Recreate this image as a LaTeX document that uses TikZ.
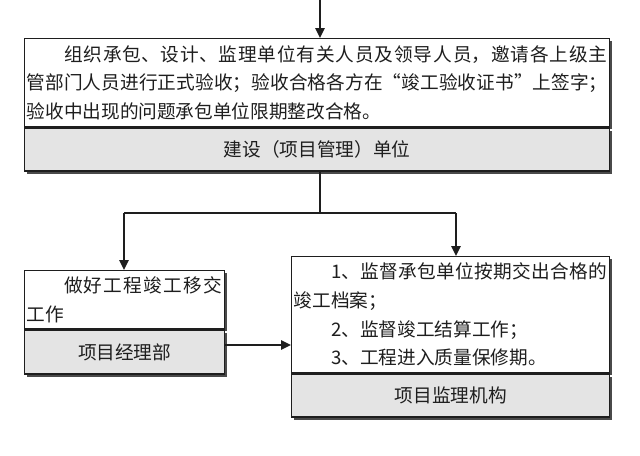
\documentclass[tikz,border=0pt]{standalone}
\usepackage{fontspec}
\newfontfamily\cjk{Noto Sans CJK SC}
\usetikzlibrary{arrows.meta, shadows, positioning}
\XeTeXlinebreaklocale "zh"
\XeTeXlinebreakskip=0pt plus 1pt minus 0.3pt
\definecolor{footGrey}{HTML}{E4E4E4}
\definecolor{shadeGrey}{HTML}{4A4A4A}
\definecolor{inkGrey}{HTML}{1E1E1E}
\tikzset{
  flowline/.style  = {line width=1.3pt, inkGrey},
  flowarrow/.style = {-{Triangle[length=7.5pt, width=7pt]}, line width=1.3pt, inkGrey},
  boxshade/.style  = {drop shadow={shadow xshift=2pt, shadow yshift=-2pt,
                       fill=shadeGrey, opacity=1}},
  bodybox/.style   = {rectangle, draw=inkGrey, line width=1pt, fill=white,
                      inner xsep=1.5pt, inner ysep=0pt, anchor=north west,
                      font=\cjk\fontsize{14}{21.5}\selectfont, text=inkGrey,
                      align=justify, boxshade},
  footbox/.style   = {rectangle, draw=inkGrey, line width=1pt, fill=footGrey,
                      inner sep=0pt, anchor=north, text=inkGrey,
                      font=\cjk\fontsize{14}{21}\selectfont, boxshade},
}
\begin{document}
\begin{tikzpicture}[x=0.75pt,y=-0.75pt]
  \useasboundingbox (0,0) rectangle (640,455);
  % top box
  \node[bodybox, text width=435.75pt, minimum height=66pt] (topbody) at (24,38)
    {\hspace*{2em}组织承包、设计、监理单位有关人员及领导人员，邀请各上级主\linebreak
     管部门人员进行正式验收；验收合格各方在“竣工验收证书”上签字；\linebreak
     验收中出现的问题承包单位限期整改合格。};
  \node[footbox, minimum width=438.75pt, minimum height=32.25pt] (topfoot)
    at (topbody.south) {建设（项目管理）单位};
  % left box
  \node[bodybox, text width=147pt, minimum height=43.5pt] (leftbody) at (24,270)
    {\hspace*{2em}做好工程竣工移交\linebreak 工作};
  \node[footbox, minimum width=150pt, minimum height=33pt] (leftfoot)
    at (leftbody.south) {项目经理部};
  % right box
  \node[bodybox, text width=235.5pt, minimum height=87pt] (rightbody) at (291,256)
    {\hspace*{2em}1、监督承包单位按期交出合格的\linebreak
     竣工档案；\\
     \hspace*{2em}2、监督竣工结算工作；\\
     \hspace*{2em}3、工程进入质量保修期。};
  \node[footbox, minimum width=238.5pt, minimum height=32.25pt] (rightfoot)
    at (rightbody.south) {项目监理机构};
  % connectors
  \coordinate (topin) at (320,0);
  \coordinate (split) at (320,213);
  \coordinate (leftdrop) at (124,213);
  \coordinate (rightdrop) at (456,213);
  \draw[flowarrow] (topin) -- (topin |- topbody.north);
  \draw[flowline] (split |- topfoot.south) -- (split);
  \draw[flowline] (leftdrop) -- (rightdrop);
  \draw[flowarrow] (leftdrop) -- (leftdrop |- leftbody.north);
  \draw[flowarrow] (rightdrop) -- (rightdrop |- rightbody.north);
  \draw[flowarrow] ([yshift=5.25pt]leftfoot.east) -- ([yshift=5.25pt]leftfoot.east -| rightbody.west);
\end{tikzpicture}
\end{document}
